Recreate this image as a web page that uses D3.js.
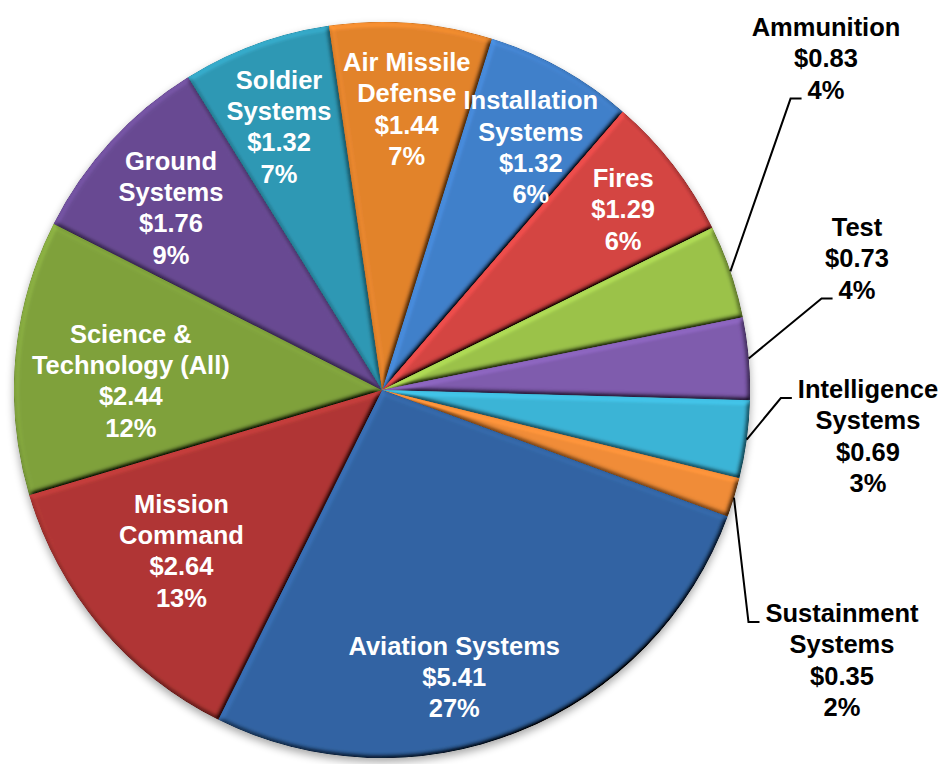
<!DOCTYPE html>
<html>
<head>
  <meta charset="utf-8">
  <title>Army budget by portfolio</title>
  <script src="https://d3js.org/d3.v7.min.js"></script>
  <style>
    body { margin: 0; background: #fff; }
    text { font-family: "Liberation Sans", Arial, sans-serif; font-weight: bold; }
  </style>
</head>
<body>
<svg id="chart"></svg>
<script>

  // slices in the order the spreadsheet lists them (clockwise from Installation Systems)
  var categories = ["Installation\nSystems", "Fires", "Ammunition", "Test",
    "Intelligence\nSystems", "Sustainment\nSystems", "Aviation Systems",
    "Mission\nCommand", "Science &\nTechnology (All)", "Ground\nSystems",
    "Soldier\nSystems", "Air Missile\nDefense"];
  var values = [1.32, 1.29, 0.83, 0.73, 0.69, 0.35, 5.41, 2.64, 2.44, 1.76, 1.32, 1.44];
  var percents = [6, 6, 4, 4, 3, 2, 27, 13, 12, 9, 7, 7];
  var colors = ["#4180CA", "#D44442", "#9BC24A", "#7F5BAD", "#3CB4D6", "#F08C37",
    "#3264A3", "#B03634", "#7FA13C", "#684A92", "#2F98B4", "#E2832C"];

  // label layout: [radius fraction, angle shift in degrees] for labels inside the pie
  var insideLabel = [[0.774, 2.4], [0.819, 0.8], null, null, null, null,
    [0.804, 7.6], [0.698, 1.4], [0.683, -3.0], [0.758, -1.7], [0.769, -1.3], [0.767, 0.5]];
  // callout labels outside: offset of text (centre x, first line) from pie centre,
  // and which line the leader line points at
  var callout = [null, null, [444, -363, "last"], [475, -163, "last"],
    [486, -1, "first"], [460, 223, "first"], null, null, null, null, null, null];

  var width = 943, height = 764;
  var cx = 382, cy = 390, radius = 368;
  var firstSliceAngle = 17.35;
  var lineH = 31.3;

  var svg = d3.select("#chart").attr("width", width).attr("height", height);
  var defs = svg.append("defs");

  var shadow = defs.append("filter").attr("id", "shadow")
    .attr("x", "-10%").attr("y", "-10%").attr("width", "120%").attr("height", "120%");
  shadow.append("feGaussianBlur").attr("stdDeviation", 4);

  // soft bevel: diffuse light on the blurred alpha, normalised so flat areas keep their colour
  var elev = 50;
  var bevel = defs.append("filter").attr("id", "bevel")
    .attr("x", "-5%").attr("y", "-5%").attr("width", "110%").attr("height", "110%");
  bevel.append("feGaussianBlur").attr("in", "SourceAlpha").attr("stdDeviation", 2.4).attr("result", "blur");
  bevel.append("feDiffuseLighting").attr("in", "blur").attr("surfaceScale", 4)
    .attr("diffuseConstant", 1).attr("lighting-color", "#fff").attr("result", "light")
    .append("feDistantLight").attr("azimuth", 235).attr("elevation", elev);
  bevel.append("feComposite").attr("in", "SourceGraphic").attr("in2", "light")
    .attr("operator", "arithmetic").attr("k1", 1 / Math.sin(elev * Math.PI / 180))
    .attr("k2", 0).attr("k3", 0).attr("k4", 0);

  var g = svg.append("g").attr("transform", "translate(" + cx + "," + cy + ")");

  var rad = d => d * Math.PI / 180;
  var pie = d3.pie().sort(null).value(d => d)
    .startAngle(rad(firstSliceAngle)).endAngle(rad(firstSliceAngle + 360));
  var arcs = pie(values);
  var arc = d3.arc().innerRadius(0).outerRadius(radius);

  g.append("circle")
    .attr("cx", 0).attr("cy", 4).attr("r", radius)
    .attr("fill", "#000").attr("opacity", 0.35)
    .attr("filter", "url(#shadow)");

  g.selectAll("path.slice")
    .data(arcs).enter()
    .append("path")
    .attr("class", "slice")
    .attr("d", arc)
    .attr("fill", (d, i) => colors[i])
    .attr("filter", "url(#bevel)");

  function labelLines(i) {
    return categories[i].split("\n").concat(["$" + values[i].toFixed(2), percents[i] + "%"]);
  }

  function polar(angleDeg, r) {
    var a = rad(angleDeg);
    return [r * Math.sin(a), -r * Math.cos(a)];
  }

  arcs.forEach(function(d, i) {
    var lines = labelLines(i);
    var midDeg = (d.startAngle + d.endAngle) / 2 * 180 / Math.PI;

    if (insideLabel[i]) {
      var p = polar(midDeg + insideLabel[i][1], radius * insideLabel[i][0]);
      var t = g.append("text").attr("text-anchor", "middle").attr("fill", "#fff")
        .style("font-size", "25.5px");
      lines.forEach(function(s, k) {
        t.append("tspan").attr("x", p[0])
          .attr("y", p[1] + (k - (lines.length - 1) / 2) * lineH)
          .attr("dy", "0.36em").text(s);
      });
    } else {
      var c = callout[i];
      var t = g.append("text").attr("text-anchor", "middle").attr("fill", "#000")
        .style("font-size", "25.5px");
      var spans = [];
      lines.forEach(function(s, k) {
        spans.push(t.append("tspan").attr("x", c[0])
          .attr("y", c[1] + k * lineH).attr("dy", "0.36em").text(s));
      });
      var k = c[2] == "last" ? lines.length - 1 : 0;
      var w = spans[k].node().getComputedTextLength();
      var endX = c[0] - w / 2 - 6;
      var baseY = c[1] + k * lineH + 9;
      var edge = polar(midDeg, radius);
      g.append("path")
        .attr("d", d3.line()([edge, [endX - 11, baseY], [endX, baseY]]))
        .attr("fill", "none").attr("stroke", "#000").attr("stroke-width", 2);
    }
  });

</script>
</body>
</html>
